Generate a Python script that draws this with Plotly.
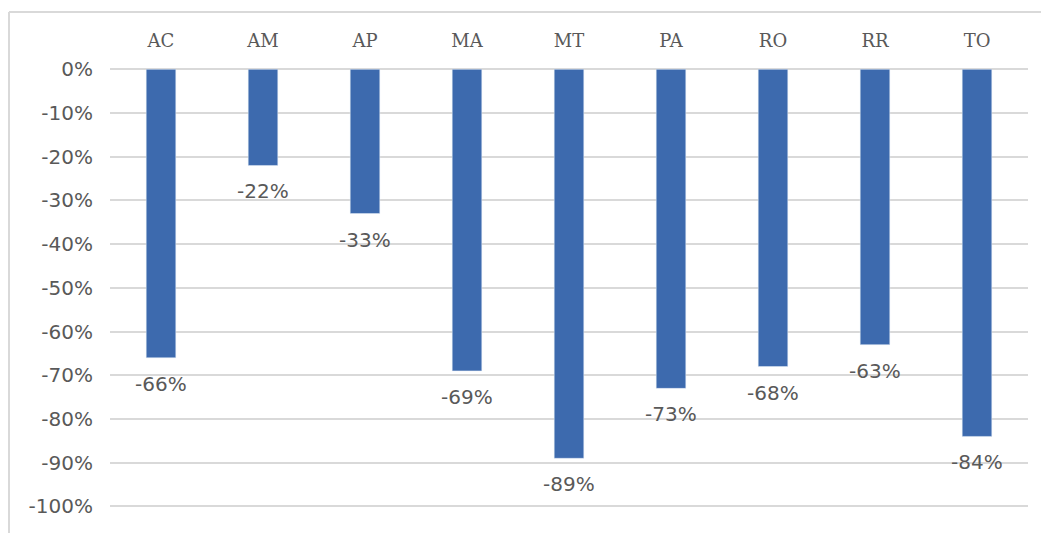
import plotly.graph_objects as go

categories = ["AC", "AM", "AP", "MA", "MT", "PA", "RO", "RR", "TO"]
values = [-0.66, -0.22, -0.33, -0.69, -0.89, -0.73, -0.68, -0.63, -0.84]
tick_vals = [0, -0.1, -0.2, -0.3, -0.4, -0.5, -0.6, -0.7, -0.8, -0.9, -1.0]
tick_text = ["0%", "-10%", "-20%", "-30%", "-40%", "-50%", "-60%", "-70%", "-80%", "-90%", "-100%"]
value_labels = ["-66%", "-22%", "-33%", "-69%", "-89%", "-73%", "-68%", "-63%", "-84%"]

BAR = "#3D6AAE"
TXT = "#595959"
GRID = "#D9D9D9"

fig = go.Figure(go.Bar(x=categories, y=values, marker_color=BAR, width=0.29))

for c, v, t in zip(categories, values, value_labels):
    fig.add_annotation(x=c, y=v, text=t, showarrow=False, yanchor="top", yshift=-12,
                       font=dict(family="DejaVu Sans", size=20, color=TXT))

fig.update_layout(
    width=1041, height=533,
    margin=dict(l=110, r=13, t=68, b=24),
    paper_bgcolor="white", plot_bgcolor="white",
    showlegend=False,
    xaxis=dict(side="top", showgrid=False, showline=False, ticks="", ticklen=0,
               ticklabelstandoff=16,
               tickfont=dict(family="DejaVu Serif", size=18, color=TXT)),
    yaxis=dict(range=[-1.006, 0.003], tickvals=tick_vals, ticktext=tick_text, showgrid=True,
               gridcolor=GRID, gridwidth=1.5, zeroline=False, showline=False, ticks="",
               ticklabelstandoff=16,
               tickfont=dict(family="DejaVu Sans", size=20, color=TXT)),
    bargap=0.7,
)

# chart border (top and left visible)
fig.add_shape(type="line", xref="paper", yref="paper", x0=-0.110, x1=1.02, y0=1.127, y1=1.127,
              line=dict(color=GRID, width=2))
fig.add_shape(type="line", xref="paper", yref="paper", x0=-0.110, x1=-0.110, y0=1.127, y1=-0.08,
              line=dict(color=GRID, width=2))

fig.write_html("out.html")
